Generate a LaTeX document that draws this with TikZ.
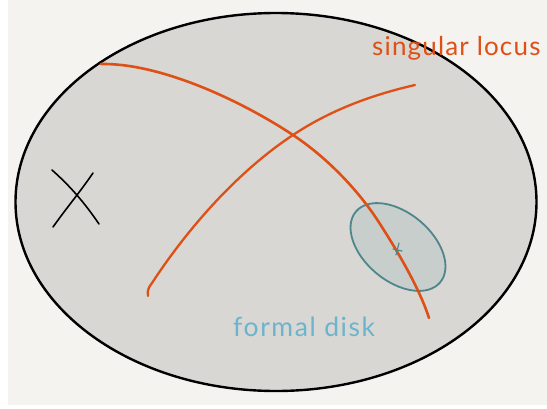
\documentclass[tikz,border=0pt]{standalone}
\usepackage{fontspec}
\setmainfont{Lato}
\definecolor{paper}{RGB}{244,243,240}
\definecolor{blobfill}{RGB}{216,215,211}
\definecolor{locus}{RGB}{222,80,22}
\definecolor{diskfill}{RGB}{200,206,203}
\definecolor{diskline}{RGB}{78,134,140}
\definecolor{disktext}{RGB}{108,180,205}
\tikzset{
  locusline/.style={draw=locus, line width=2.6pt, line cap=round, line join=round},
  pen/.style={draw=black, line width=1.6pt, line cap=round},
  lbl/.style={inner sep=0pt, anchor=base west},
}
\begin{document}
\begin{tikzpicture}[x=1pt,y=-1pt]
\useasboundingbox (0,0) rectangle (547,408);
\fill[white] (0,0) rectangle (547,408);
\fill[paper] (8,0) rectangle (547,405);
% space X
\draw[fill=blobfill, draw=black, line width=2.4pt] (276,202) ellipse [x radius=260.5, y radius=189];
% formal disk
\draw[fill=diskfill, draw=diskline, line width=1.8pt] (398,247) ellipse [x radius=55, y radius=34, rotate=-40];
% singular locus curves
\draw[locusline] (101,64) .. controls (160,63) and (240,100) .. (293,135)
  .. controls (335,163) and (365,200) .. (380,224)
  .. controls (400,255) and (420,290) .. (429,318);
\draw[locusline, line width=2.3pt] (148,296) .. controls (147,290) and (149,287) .. (152,283)
  .. controls (190,225) and (240,170) .. (293,135)
  .. controls (335,107) and (380,93) .. (415,85);
% point on the disk
\draw[diskline, line width=1.2pt, line cap=round] (393,249) -- (402,251);
\draw[diskline, line width=1.2pt, line cap=round] (396,255) -- (399,243);
% X label
\draw[pen] (52,170) .. controls (70,186) and (84,202) .. (99,224);
\draw[pen] (93,173) .. controls (80,192) and (68,206) .. (53,227);
% labels
\node[lbl, text=locus, font=\fontsize{26}{26}\selectfont\addfontfeature{LetterSpace=4.5}] (sing) at (372,55) {singular locus};
\node[lbl, text=disktext, font=\fontsize{26.5}{27}\selectfont\addfontfeature{LetterSpace=6}] (formal) at (233,336) {formal disk};
\end{tikzpicture}
\end{document}
